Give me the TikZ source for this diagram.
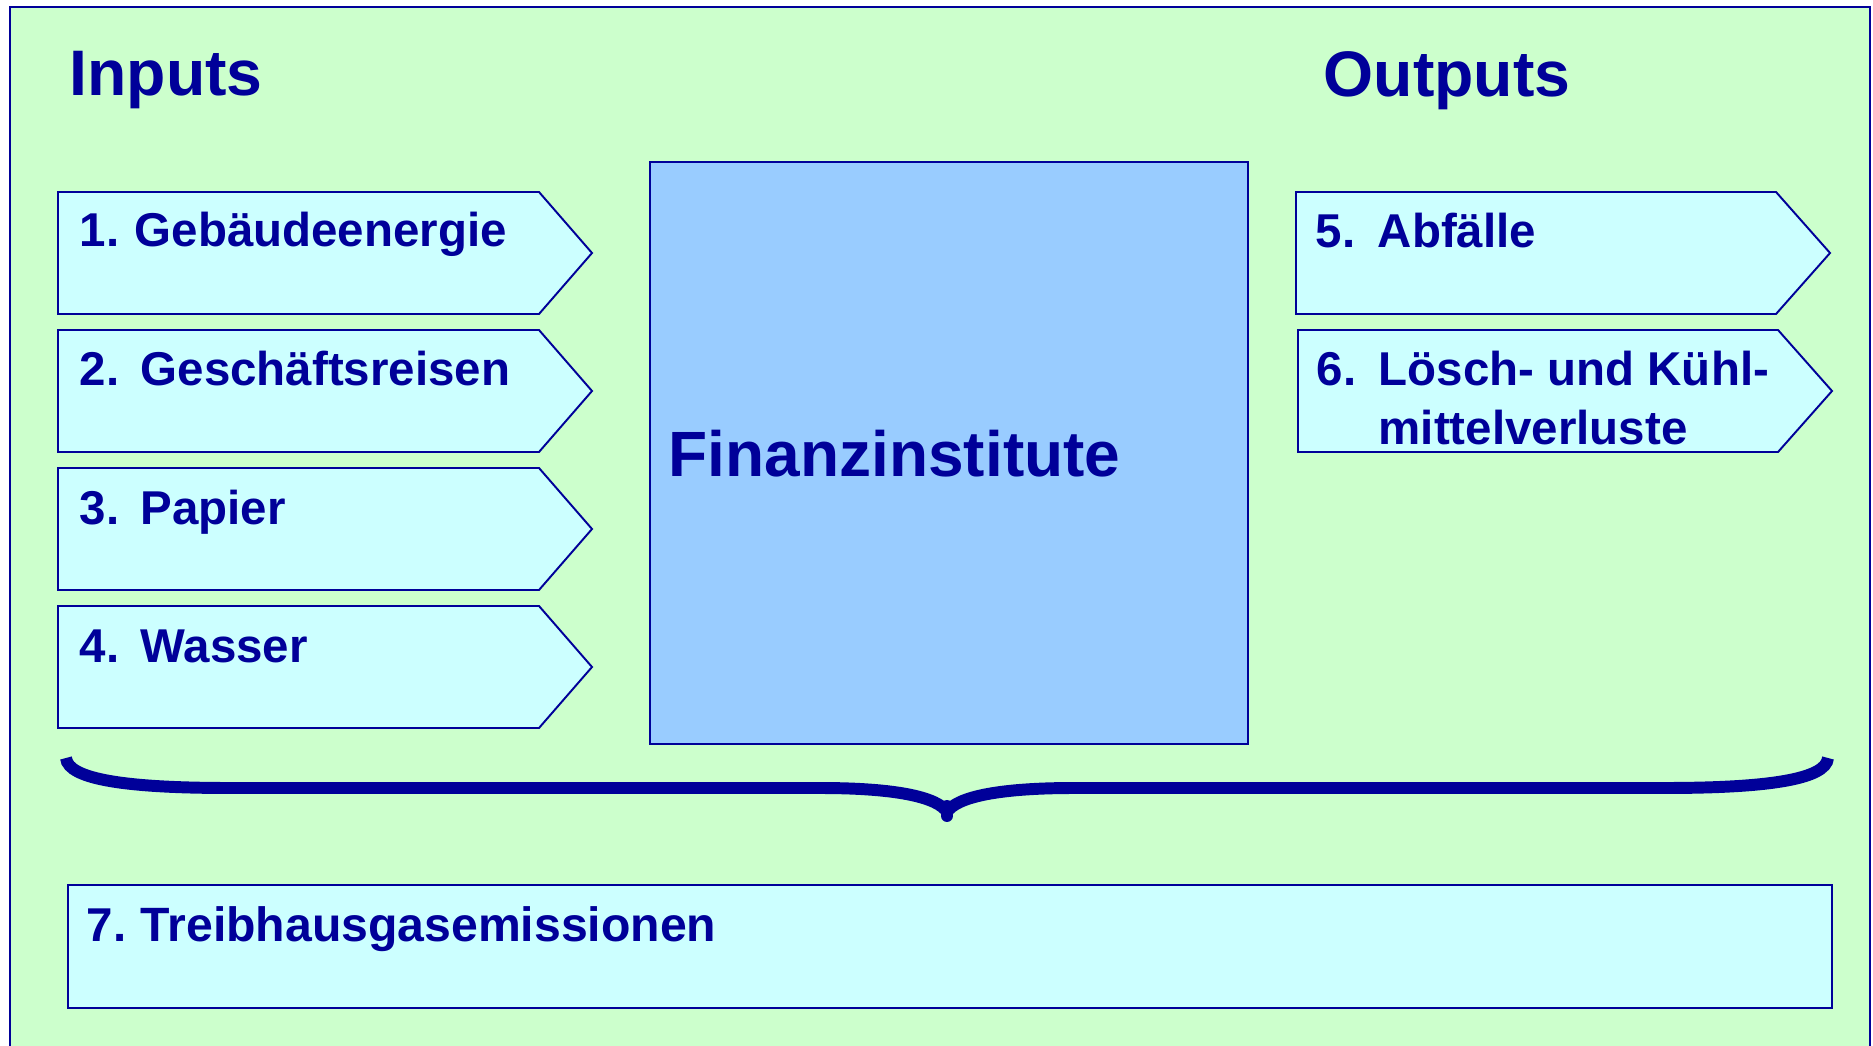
\documentclass[tikz,border=0pt]{standalone}
\usepackage{fontspec}
\setmainfont{Liberation Sans}
\usetikzlibrary{positioning}

\definecolor{bggreen}{HTML}{CCFFCC}
\definecolor{navy}{HTML}{000099}
\definecolor{cyanfill}{HTML}{CCFFFF}
\definecolor{boxblue}{HTML}{99CCFF}

\tikzset{
  outline/.style={draw=navy, line width=0.55pt},
  flowbox/.style={outline, fill=cyanfill},
  itemtext/.style={anchor=base west, inner sep=0pt, text=navy,
    font=\fontsize{13.5}{16}\selectfont\bfseries},
  headtext/.style={itemtext, font=\fontsize{18.3}{22}\selectfont\bfseries},
  bigtext/.style={itemtext, font=\fontsize{18.2}{22}\selectfont\bfseries},
}

% pentagon arrow: left x, top y, shoulder x, tip x
\newcommand{\flowarrow}[4]{%
  \draw[flowbox] (#1,#2) -- (#3,#2) -- (#4,#2+61) -- (#3,#2+122)
    -- (#1,#2+122) -- cycle;}

\begin{document}
\begin{tikzpicture}[x=0.01cm, y=-0.01cm]
  \clip (0,0) rectangle (1873,1046);
  \fill[white] (0,0) rectangle (1873,1046);
  \draw[outline, fill=bggreen] (10,7) rectangle (1870,1080);

  % headings
  \node[headtext] (inputs) at (69,96) {Inputs};
  \node[headtext] (outputs) at (1323,97) {Outputs};

  % inputs
  \flowarrow{58}{192}{539}{592}
  \flowarrow{58}{330}{539}{592}
  \flowarrow{58}{468}{539}{592}
  \flowarrow{58}{606}{539}{592}
  \node[itemtext] (n1) at (79,247) {1.};
  \node[itemtext] (t1) at (134,247) {Gebäudeenergie};
  \node[itemtext] (n2) at (79,386) {2.};
  \node[itemtext] (t2) at (140,386) {Geschäftsreisen};
  \node[itemtext] (n3) at (79,524) {3.};
  \node[itemtext] (t3) at (140,524) {Papier};
  \node[itemtext] (n4) at (79,662) {4.};
  \node[itemtext] (t4) at (140,662) {Wasser};

  % the institution
  \node[outline, fill=boxblue, anchor=north west, inner sep=0pt,
    minimum width=5.98cm, minimum height=5.82cm] (fin) at (649,161) {};
  \node[bigtext] (fintext) at (668,476) {Finanzinstitute};

  % outputs
  \flowarrow{1296}{192}{1776}{1830}
  \flowarrow{1298}{330}{1778}{1832}
  \node[itemtext] (n5) at (1315,248) {5.};
  \node[itemtext] (t5) at (1377,248) {Abfälle};
  \node[itemtext] (n6) at (1316,386) {6.};
  \node[itemtext] (t6) at (1378,386) {Lösch- und Kühl-};
  \node[itemtext] (t6b) at (1378,444) {mittelverluste};

  % brace
  \draw[navy, line width=3.4pt]
    (66,758) .. controls (68,780) and (130,788) .. (230,788)
    -- (820,788) .. controls (900,788) and (938,798) .. (947,812)
    .. controls (956,798) and (994,788) .. (1074,788)
    -- (1664,788) .. controls (1764,788) and (1826,780) .. (1828,758);
  \draw[navy, line width=3.4pt, line cap=round] (947,806) -- (947,816);

  % result
  \node[flowbox, anchor=north west, inner sep=0pt,
    minimum width=17.63cm, minimum height=1.23cm] (ghg) at (67,884) {};
  \node[itemtext] (n7) at (86,941) {7.};
  \node[itemtext, font=\fontsize{13.7}{16}\selectfont\bfseries] (t7)
    at (140,941) {Treibhausgasemissionen};
\end{tikzpicture}
\end{document}
